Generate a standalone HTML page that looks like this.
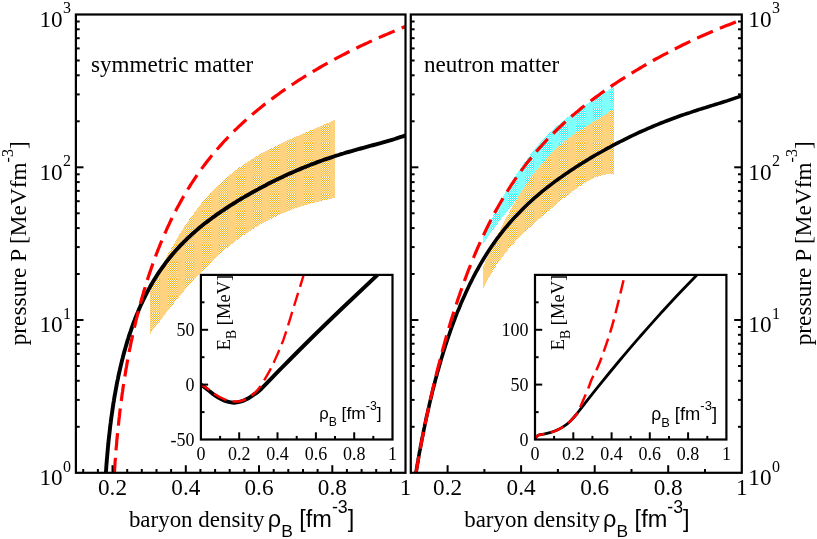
<!DOCTYPE html>
<html><head><meta charset="utf-8"><title>EOS pressure</title>
<style>
html,body{margin:0;padding:0;background:#fff;}
body{width:817px;height:539px;overflow:hidden;}
svg{display:block;will-change:transform;}
text{font-family:"Liberation Serif",serif;fill:#000;}
.mt{font-size:23.2px;}
.ml{font-size:23.1px;}
.ms{font-family:"Liberation Sans",sans-serif;}
.it{font-size:18px;}
.is{font-family:"Liberation Sans",sans-serif;font-size:17.4px;}
</style></head><body>
<svg width="817" height="539" viewBox="0 0 817 539">
<defs>
<clipPath id="c1"><rect x="75.9" y="14.5" width="329.6" height="458.3"/></clipPath>
<clipPath id="c2"><rect x="410.8" y="14.5" width="331.0" height="458.3"/></clipPath>
<clipPath id="c3"><rect x="200.9" y="274.9" width="191.6" height="164.6"/></clipPath>
<clipPath id="c4"><rect x="535.0" y="274.9" width="191.4" height="164.6"/></clipPath>
<pattern id="po1" x="253" y="7" width="17" height="17" patternUnits="userSpaceOnUse">
<rect width="17" height="17" fill="#ffd280"/>
<rect x="0" y="0" width="1" height="1" fill="#ffab18"/>
<rect x="1" y="0" width="1" height="1" fill="#fff9e8"/>
<rect x="2" y="0" width="1" height="1" fill="#ffab18"/>
<rect x="3" y="0" width="1" height="1" fill="#fff9e8"/>
<rect x="4" y="0" width="1" height="1" fill="#ffab18"/>
<rect x="5" y="0" width="1" height="1" fill="#fff9e8"/>
<rect x="6" y="0" width="1" height="1" fill="#ffab18"/>
<rect x="7" y="0" width="1" height="1" fill="#fff9e8"/>
<rect x="8" y="0" width="1" height="1" fill="#ffab18"/>
<rect x="0" y="1" width="1" height="1" fill="#fff9e8"/>
<rect x="1" y="1" width="1" height="1" fill="#ffab18"/>
<rect x="2" y="1" width="1" height="1" fill="#fff9e8"/>
<rect x="3" y="1" width="1" height="1" fill="#ffab18"/>
<rect x="4" y="1" width="1" height="1" fill="#fff9e8"/>
<rect x="5" y="1" width="1" height="1" fill="#ffab18"/>
<rect x="6" y="1" width="1" height="1" fill="#fff9e8"/>
<rect x="7" y="1" width="1" height="1" fill="#ffab18"/>
<rect x="8" y="1" width="1" height="1" fill="#fff9e8"/>
<rect x="0" y="2" width="1" height="1" fill="#ffab18"/>
<rect x="1" y="2" width="1" height="1" fill="#fff9e8"/>
<rect x="2" y="2" width="1" height="1" fill="#ffab18"/>
<rect x="3" y="2" width="1" height="1" fill="#fff9e8"/>
<rect x="4" y="2" width="1" height="1" fill="#ffab18"/>
<rect x="5" y="2" width="1" height="1" fill="#fff9e8"/>
<rect x="6" y="2" width="1" height="1" fill="#ffab18"/>
<rect x="7" y="2" width="1" height="1" fill="#fff9e8"/>
<rect x="8" y="2" width="1" height="1" fill="#ffab18"/>
<rect x="0" y="3" width="1" height="1" fill="#fff9e8"/>
<rect x="1" y="3" width="1" height="1" fill="#ffab18"/>
<rect x="2" y="3" width="1" height="1" fill="#fff9e8"/>
<rect x="3" y="3" width="1" height="1" fill="#ffab18"/>
<rect x="4" y="3" width="1" height="1" fill="#fff9e8"/>
<rect x="5" y="3" width="1" height="1" fill="#ffab18"/>
<rect x="6" y="3" width="1" height="1" fill="#fff9e8"/>
<rect x="7" y="3" width="1" height="1" fill="#ffab18"/>
<rect x="8" y="3" width="1" height="1" fill="#fff9e8"/>
<rect x="0" y="4" width="1" height="1" fill="#ffab18"/>
<rect x="1" y="4" width="1" height="1" fill="#fff9e8"/>
<rect x="2" y="4" width="1" height="1" fill="#ffab18"/>
<rect x="3" y="4" width="1" height="1" fill="#fff9e8"/>
<rect x="4" y="4" width="1" height="1" fill="#ffab18"/>
<rect x="5" y="4" width="1" height="1" fill="#fff9e8"/>
<rect x="6" y="4" width="1" height="1" fill="#ffab18"/>
<rect x="7" y="4" width="1" height="1" fill="#fff9e8"/>
<rect x="8" y="4" width="1" height="1" fill="#ffab18"/>
<rect x="0" y="5" width="1" height="1" fill="#fff9e8"/>
<rect x="1" y="5" width="1" height="1" fill="#ffab18"/>
<rect x="2" y="5" width="1" height="1" fill="#fff9e8"/>
<rect x="3" y="5" width="1" height="1" fill="#ffab18"/>
<rect x="4" y="5" width="1" height="1" fill="#fff9e8"/>
<rect x="5" y="5" width="1" height="1" fill="#ffab18"/>
<rect x="6" y="5" width="1" height="1" fill="#fff9e8"/>
<rect x="7" y="5" width="1" height="1" fill="#ffab18"/>
<rect x="8" y="5" width="1" height="1" fill="#fff9e8"/>
<rect x="0" y="6" width="1" height="1" fill="#ffab18"/>
<rect x="1" y="6" width="1" height="1" fill="#fff9e8"/>
<rect x="2" y="6" width="1" height="1" fill="#ffab18"/>
<rect x="3" y="6" width="1" height="1" fill="#fff9e8"/>
<rect x="4" y="6" width="1" height="1" fill="#ffab18"/>
<rect x="5" y="6" width="1" height="1" fill="#fff9e8"/>
<rect x="6" y="6" width="1" height="1" fill="#ffab18"/>
<rect x="7" y="6" width="1" height="1" fill="#fff9e8"/>
<rect x="8" y="6" width="1" height="1" fill="#ffab18"/>
<rect x="0" y="7" width="1" height="1" fill="#fff9e8"/>
<rect x="1" y="7" width="1" height="1" fill="#ffab18"/>
<rect x="2" y="7" width="1" height="1" fill="#fff9e8"/>
<rect x="3" y="7" width="1" height="1" fill="#ffab18"/>
<rect x="4" y="7" width="1" height="1" fill="#fff9e8"/>
<rect x="5" y="7" width="1" height="1" fill="#ffab18"/>
<rect x="6" y="7" width="1" height="1" fill="#fff9e8"/>
<rect x="7" y="7" width="1" height="1" fill="#ffab18"/>
<rect x="8" y="7" width="1" height="1" fill="#fff9e8"/>
<rect x="0" y="8" width="1" height="1" fill="#ffab18"/>
<rect x="1" y="8" width="1" height="1" fill="#fff9e8"/>
<rect x="2" y="8" width="1" height="1" fill="#ffab18"/>
<rect x="3" y="8" width="1" height="1" fill="#fff9e8"/>
<rect x="4" y="8" width="1" height="1" fill="#ffab18"/>
<rect x="5" y="8" width="1" height="1" fill="#fff9e8"/>
<rect x="6" y="8" width="1" height="1" fill="#ffab18"/>
<rect x="7" y="8" width="1" height="1" fill="#fff9e8"/>
<rect x="8" y="8" width="1" height="1" fill="#ffab18"/>
<rect x="0" y="9" width="1" height="1" fill="#ffe7b4"/>
<rect x="1" y="9" width="1" height="1" fill="#ffbd4c"/>
<rect x="2" y="9" width="1" height="1" fill="#ffe7b4"/>
<rect x="3" y="9" width="1" height="1" fill="#ffbd4c"/>
<rect x="4" y="9" width="1" height="1" fill="#ffe7b4"/>
<rect x="5" y="9" width="1" height="1" fill="#ffbd4c"/>
<rect x="6" y="9" width="1" height="1" fill="#ffe7b4"/>
<rect x="7" y="9" width="1" height="1" fill="#ffbd4c"/>
<rect x="8" y="9" width="1" height="1" fill="#ffe7b4"/>
<rect x="0" y="10" width="1" height="1" fill="#ffbd4c"/>
<rect x="1" y="10" width="1" height="1" fill="#ffe7b4"/>
<rect x="2" y="10" width="1" height="1" fill="#ffbd4c"/>
<rect x="3" y="10" width="1" height="1" fill="#ffe7b4"/>
<rect x="4" y="10" width="1" height="1" fill="#ffbd4c"/>
<rect x="5" y="10" width="1" height="1" fill="#ffe7b4"/>
<rect x="6" y="10" width="1" height="1" fill="#ffbd4c"/>
<rect x="7" y="10" width="1" height="1" fill="#ffe7b4"/>
<rect x="8" y="10" width="1" height="1" fill="#ffbd4c"/>
<rect x="0" y="11" width="1" height="1" fill="#ffe7b4"/>
<rect x="1" y="11" width="1" height="1" fill="#ffbd4c"/>
<rect x="2" y="11" width="1" height="1" fill="#ffe7b4"/>
<rect x="3" y="11" width="1" height="1" fill="#ffbd4c"/>
<rect x="4" y="11" width="1" height="1" fill="#ffe7b4"/>
<rect x="5" y="11" width="1" height="1" fill="#ffbd4c"/>
<rect x="6" y="11" width="1" height="1" fill="#ffe7b4"/>
<rect x="7" y="11" width="1" height="1" fill="#ffbd4c"/>
<rect x="8" y="11" width="1" height="1" fill="#ffe7b4"/>
<rect x="0" y="12" width="1" height="1" fill="#ffbd4c"/>
<rect x="1" y="12" width="1" height="1" fill="#ffe7b4"/>
<rect x="2" y="12" width="1" height="1" fill="#ffbd4c"/>
<rect x="3" y="12" width="1" height="1" fill="#ffe7b4"/>
<rect x="4" y="12" width="1" height="1" fill="#ffbd4c"/>
<rect x="5" y="12" width="1" height="1" fill="#ffe7b4"/>
<rect x="6" y="12" width="1" height="1" fill="#ffbd4c"/>
<rect x="7" y="12" width="1" height="1" fill="#ffe7b4"/>
<rect x="8" y="12" width="1" height="1" fill="#ffbd4c"/>
<rect x="0" y="13" width="1" height="1" fill="#ffe7b4"/>
<rect x="1" y="13" width="1" height="1" fill="#ffbd4c"/>
<rect x="2" y="13" width="1" height="1" fill="#ffe7b4"/>
<rect x="3" y="13" width="1" height="1" fill="#ffbd4c"/>
<rect x="4" y="13" width="1" height="1" fill="#ffe7b4"/>
<rect x="5" y="13" width="1" height="1" fill="#ffbd4c"/>
<rect x="6" y="13" width="1" height="1" fill="#ffe7b4"/>
<rect x="7" y="13" width="1" height="1" fill="#ffbd4c"/>
<rect x="8" y="13" width="1" height="1" fill="#ffe7b4"/>
<rect x="0" y="14" width="1" height="1" fill="#ffbd4c"/>
<rect x="1" y="14" width="1" height="1" fill="#ffe7b4"/>
<rect x="2" y="14" width="1" height="1" fill="#ffbd4c"/>
<rect x="3" y="14" width="1" height="1" fill="#ffe7b4"/>
<rect x="4" y="14" width="1" height="1" fill="#ffbd4c"/>
<rect x="5" y="14" width="1" height="1" fill="#ffe7b4"/>
<rect x="6" y="14" width="1" height="1" fill="#ffbd4c"/>
<rect x="7" y="14" width="1" height="1" fill="#ffe7b4"/>
<rect x="8" y="14" width="1" height="1" fill="#ffbd4c"/>
<rect x="0" y="15" width="1" height="1" fill="#ffe7b4"/>
<rect x="1" y="15" width="1" height="1" fill="#ffbd4c"/>
<rect x="2" y="15" width="1" height="1" fill="#ffe7b4"/>
<rect x="3" y="15" width="1" height="1" fill="#ffbd4c"/>
<rect x="4" y="15" width="1" height="1" fill="#ffe7b4"/>
<rect x="5" y="15" width="1" height="1" fill="#ffbd4c"/>
<rect x="6" y="15" width="1" height="1" fill="#ffe7b4"/>
<rect x="7" y="15" width="1" height="1" fill="#ffbd4c"/>
<rect x="8" y="15" width="1" height="1" fill="#ffe7b4"/>
<rect x="0" y="16" width="1" height="1" fill="#ffbd4c"/>
<rect x="1" y="16" width="1" height="1" fill="#ffe7b4"/>
<rect x="2" y="16" width="1" height="1" fill="#ffbd4c"/>
<rect x="3" y="16" width="1" height="1" fill="#ffe7b4"/>
<rect x="4" y="16" width="1" height="1" fill="#ffbd4c"/>
<rect x="5" y="16" width="1" height="1" fill="#ffe7b4"/>
<rect x="6" y="16" width="1" height="1" fill="#ffbd4c"/>
<rect x="7" y="16" width="1" height="1" fill="#ffe7b4"/>
<rect x="8" y="16" width="1" height="1" fill="#ffbd4c"/>
</pattern>
<pattern id="po2" x="576" y="7" width="17" height="17" patternUnits="userSpaceOnUse">
<rect width="17" height="17" fill="#ffd280"/>
<rect x="0" y="0" width="1" height="1" fill="#ffab18"/>
<rect x="1" y="0" width="1" height="1" fill="#fff9e8"/>
<rect x="2" y="0" width="1" height="1" fill="#ffab18"/>
<rect x="3" y="0" width="1" height="1" fill="#fff9e8"/>
<rect x="4" y="0" width="1" height="1" fill="#ffab18"/>
<rect x="5" y="0" width="1" height="1" fill="#fff9e8"/>
<rect x="6" y="0" width="1" height="1" fill="#ffab18"/>
<rect x="7" y="0" width="1" height="1" fill="#fff9e8"/>
<rect x="8" y="0" width="1" height="1" fill="#ffab18"/>
<rect x="0" y="1" width="1" height="1" fill="#fff9e8"/>
<rect x="1" y="1" width="1" height="1" fill="#ffab18"/>
<rect x="2" y="1" width="1" height="1" fill="#fff9e8"/>
<rect x="3" y="1" width="1" height="1" fill="#ffab18"/>
<rect x="4" y="1" width="1" height="1" fill="#fff9e8"/>
<rect x="5" y="1" width="1" height="1" fill="#ffab18"/>
<rect x="6" y="1" width="1" height="1" fill="#fff9e8"/>
<rect x="7" y="1" width="1" height="1" fill="#ffab18"/>
<rect x="8" y="1" width="1" height="1" fill="#fff9e8"/>
<rect x="0" y="2" width="1" height="1" fill="#ffab18"/>
<rect x="1" y="2" width="1" height="1" fill="#fff9e8"/>
<rect x="2" y="2" width="1" height="1" fill="#ffab18"/>
<rect x="3" y="2" width="1" height="1" fill="#fff9e8"/>
<rect x="4" y="2" width="1" height="1" fill="#ffab18"/>
<rect x="5" y="2" width="1" height="1" fill="#fff9e8"/>
<rect x="6" y="2" width="1" height="1" fill="#ffab18"/>
<rect x="7" y="2" width="1" height="1" fill="#fff9e8"/>
<rect x="8" y="2" width="1" height="1" fill="#ffab18"/>
<rect x="0" y="3" width="1" height="1" fill="#fff9e8"/>
<rect x="1" y="3" width="1" height="1" fill="#ffab18"/>
<rect x="2" y="3" width="1" height="1" fill="#fff9e8"/>
<rect x="3" y="3" width="1" height="1" fill="#ffab18"/>
<rect x="4" y="3" width="1" height="1" fill="#fff9e8"/>
<rect x="5" y="3" width="1" height="1" fill="#ffab18"/>
<rect x="6" y="3" width="1" height="1" fill="#fff9e8"/>
<rect x="7" y="3" width="1" height="1" fill="#ffab18"/>
<rect x="8" y="3" width="1" height="1" fill="#fff9e8"/>
<rect x="0" y="4" width="1" height="1" fill="#ffab18"/>
<rect x="1" y="4" width="1" height="1" fill="#fff9e8"/>
<rect x="2" y="4" width="1" height="1" fill="#ffab18"/>
<rect x="3" y="4" width="1" height="1" fill="#fff9e8"/>
<rect x="4" y="4" width="1" height="1" fill="#ffab18"/>
<rect x="5" y="4" width="1" height="1" fill="#fff9e8"/>
<rect x="6" y="4" width="1" height="1" fill="#ffab18"/>
<rect x="7" y="4" width="1" height="1" fill="#fff9e8"/>
<rect x="8" y="4" width="1" height="1" fill="#ffab18"/>
<rect x="0" y="5" width="1" height="1" fill="#fff9e8"/>
<rect x="1" y="5" width="1" height="1" fill="#ffab18"/>
<rect x="2" y="5" width="1" height="1" fill="#fff9e8"/>
<rect x="3" y="5" width="1" height="1" fill="#ffab18"/>
<rect x="4" y="5" width="1" height="1" fill="#fff9e8"/>
<rect x="5" y="5" width="1" height="1" fill="#ffab18"/>
<rect x="6" y="5" width="1" height="1" fill="#fff9e8"/>
<rect x="7" y="5" width="1" height="1" fill="#ffab18"/>
<rect x="8" y="5" width="1" height="1" fill="#fff9e8"/>
<rect x="0" y="6" width="1" height="1" fill="#ffab18"/>
<rect x="1" y="6" width="1" height="1" fill="#fff9e8"/>
<rect x="2" y="6" width="1" height="1" fill="#ffab18"/>
<rect x="3" y="6" width="1" height="1" fill="#fff9e8"/>
<rect x="4" y="6" width="1" height="1" fill="#ffab18"/>
<rect x="5" y="6" width="1" height="1" fill="#fff9e8"/>
<rect x="6" y="6" width="1" height="1" fill="#ffab18"/>
<rect x="7" y="6" width="1" height="1" fill="#fff9e8"/>
<rect x="8" y="6" width="1" height="1" fill="#ffab18"/>
<rect x="0" y="7" width="1" height="1" fill="#fff9e8"/>
<rect x="1" y="7" width="1" height="1" fill="#ffab18"/>
<rect x="2" y="7" width="1" height="1" fill="#fff9e8"/>
<rect x="3" y="7" width="1" height="1" fill="#ffab18"/>
<rect x="4" y="7" width="1" height="1" fill="#fff9e8"/>
<rect x="5" y="7" width="1" height="1" fill="#ffab18"/>
<rect x="6" y="7" width="1" height="1" fill="#fff9e8"/>
<rect x="7" y="7" width="1" height="1" fill="#ffab18"/>
<rect x="8" y="7" width="1" height="1" fill="#fff9e8"/>
<rect x="0" y="8" width="1" height="1" fill="#ffab18"/>
<rect x="1" y="8" width="1" height="1" fill="#fff9e8"/>
<rect x="2" y="8" width="1" height="1" fill="#ffab18"/>
<rect x="3" y="8" width="1" height="1" fill="#fff9e8"/>
<rect x="4" y="8" width="1" height="1" fill="#ffab18"/>
<rect x="5" y="8" width="1" height="1" fill="#fff9e8"/>
<rect x="6" y="8" width="1" height="1" fill="#ffab18"/>
<rect x="7" y="8" width="1" height="1" fill="#fff9e8"/>
<rect x="8" y="8" width="1" height="1" fill="#ffab18"/>
<rect x="0" y="9" width="1" height="1" fill="#ffe7b4"/>
<rect x="1" y="9" width="1" height="1" fill="#ffbd4c"/>
<rect x="2" y="9" width="1" height="1" fill="#ffe7b4"/>
<rect x="3" y="9" width="1" height="1" fill="#ffbd4c"/>
<rect x="4" y="9" width="1" height="1" fill="#ffe7b4"/>
<rect x="5" y="9" width="1" height="1" fill="#ffbd4c"/>
<rect x="6" y="9" width="1" height="1" fill="#ffe7b4"/>
<rect x="7" y="9" width="1" height="1" fill="#ffbd4c"/>
<rect x="8" y="9" width="1" height="1" fill="#ffe7b4"/>
<rect x="0" y="10" width="1" height="1" fill="#ffbd4c"/>
<rect x="1" y="10" width="1" height="1" fill="#ffe7b4"/>
<rect x="2" y="10" width="1" height="1" fill="#ffbd4c"/>
<rect x="3" y="10" width="1" height="1" fill="#ffe7b4"/>
<rect x="4" y="10" width="1" height="1" fill="#ffbd4c"/>
<rect x="5" y="10" width="1" height="1" fill="#ffe7b4"/>
<rect x="6" y="10" width="1" height="1" fill="#ffbd4c"/>
<rect x="7" y="10" width="1" height="1" fill="#ffe7b4"/>
<rect x="8" y="10" width="1" height="1" fill="#ffbd4c"/>
<rect x="0" y="11" width="1" height="1" fill="#ffe7b4"/>
<rect x="1" y="11" width="1" height="1" fill="#ffbd4c"/>
<rect x="2" y="11" width="1" height="1" fill="#ffe7b4"/>
<rect x="3" y="11" width="1" height="1" fill="#ffbd4c"/>
<rect x="4" y="11" width="1" height="1" fill="#ffe7b4"/>
<rect x="5" y="11" width="1" height="1" fill="#ffbd4c"/>
<rect x="6" y="11" width="1" height="1" fill="#ffe7b4"/>
<rect x="7" y="11" width="1" height="1" fill="#ffbd4c"/>
<rect x="8" y="11" width="1" height="1" fill="#ffe7b4"/>
<rect x="0" y="12" width="1" height="1" fill="#ffbd4c"/>
<rect x="1" y="12" width="1" height="1" fill="#ffe7b4"/>
<rect x="2" y="12" width="1" height="1" fill="#ffbd4c"/>
<rect x="3" y="12" width="1" height="1" fill="#ffe7b4"/>
<rect x="4" y="12" width="1" height="1" fill="#ffbd4c"/>
<rect x="5" y="12" width="1" height="1" fill="#ffe7b4"/>
<rect x="6" y="12" width="1" height="1" fill="#ffbd4c"/>
<rect x="7" y="12" width="1" height="1" fill="#ffe7b4"/>
<rect x="8" y="12" width="1" height="1" fill="#ffbd4c"/>
<rect x="0" y="13" width="1" height="1" fill="#ffe7b4"/>
<rect x="1" y="13" width="1" height="1" fill="#ffbd4c"/>
<rect x="2" y="13" width="1" height="1" fill="#ffe7b4"/>
<rect x="3" y="13" width="1" height="1" fill="#ffbd4c"/>
<rect x="4" y="13" width="1" height="1" fill="#ffe7b4"/>
<rect x="5" y="13" width="1" height="1" fill="#ffbd4c"/>
<rect x="6" y="13" width="1" height="1" fill="#ffe7b4"/>
<rect x="7" y="13" width="1" height="1" fill="#ffbd4c"/>
<rect x="8" y="13" width="1" height="1" fill="#ffe7b4"/>
<rect x="0" y="14" width="1" height="1" fill="#ffbd4c"/>
<rect x="1" y="14" width="1" height="1" fill="#ffe7b4"/>
<rect x="2" y="14" width="1" height="1" fill="#ffbd4c"/>
<rect x="3" y="14" width="1" height="1" fill="#ffe7b4"/>
<rect x="4" y="14" width="1" height="1" fill="#ffbd4c"/>
<rect x="5" y="14" width="1" height="1" fill="#ffe7b4"/>
<rect x="6" y="14" width="1" height="1" fill="#ffbd4c"/>
<rect x="7" y="14" width="1" height="1" fill="#ffe7b4"/>
<rect x="8" y="14" width="1" height="1" fill="#ffbd4c"/>
<rect x="0" y="15" width="1" height="1" fill="#ffe7b4"/>
<rect x="1" y="15" width="1" height="1" fill="#ffbd4c"/>
<rect x="2" y="15" width="1" height="1" fill="#ffe7b4"/>
<rect x="3" y="15" width="1" height="1" fill="#ffbd4c"/>
<rect x="4" y="15" width="1" height="1" fill="#ffe7b4"/>
<rect x="5" y="15" width="1" height="1" fill="#ffbd4c"/>
<rect x="6" y="15" width="1" height="1" fill="#ffe7b4"/>
<rect x="7" y="15" width="1" height="1" fill="#ffbd4c"/>
<rect x="8" y="15" width="1" height="1" fill="#ffe7b4"/>
<rect x="0" y="16" width="1" height="1" fill="#ffbd4c"/>
<rect x="1" y="16" width="1" height="1" fill="#ffe7b4"/>
<rect x="2" y="16" width="1" height="1" fill="#ffbd4c"/>
<rect x="3" y="16" width="1" height="1" fill="#ffe7b4"/>
<rect x="4" y="16" width="1" height="1" fill="#ffbd4c"/>
<rect x="5" y="16" width="1" height="1" fill="#ffe7b4"/>
<rect x="6" y="16" width="1" height="1" fill="#ffbd4c"/>
<rect x="7" y="16" width="1" height="1" fill="#ffe7b4"/>
<rect x="8" y="16" width="1" height="1" fill="#ffbd4c"/>
</pattern>
<pattern id="pc2" x="576" y="7" width="17" height="17" patternUnits="userSpaceOnUse">
<rect width="17" height="17" fill="#80ffff"/>
<rect x="0" y="0" width="1" height="1" fill="#18ffff"/>
<rect x="1" y="0" width="1" height="1" fill="#e8ffff"/>
<rect x="2" y="0" width="1" height="1" fill="#18ffff"/>
<rect x="3" y="0" width="1" height="1" fill="#e8ffff"/>
<rect x="4" y="0" width="1" height="1" fill="#18ffff"/>
<rect x="5" y="0" width="1" height="1" fill="#e8ffff"/>
<rect x="6" y="0" width="1" height="1" fill="#18ffff"/>
<rect x="7" y="0" width="1" height="1" fill="#e8ffff"/>
<rect x="8" y="0" width="1" height="1" fill="#18ffff"/>
<rect x="0" y="1" width="1" height="1" fill="#e8ffff"/>
<rect x="1" y="1" width="1" height="1" fill="#18ffff"/>
<rect x="2" y="1" width="1" height="1" fill="#e8ffff"/>
<rect x="3" y="1" width="1" height="1" fill="#18ffff"/>
<rect x="4" y="1" width="1" height="1" fill="#e8ffff"/>
<rect x="5" y="1" width="1" height="1" fill="#18ffff"/>
<rect x="6" y="1" width="1" height="1" fill="#e8ffff"/>
<rect x="7" y="1" width="1" height="1" fill="#18ffff"/>
<rect x="8" y="1" width="1" height="1" fill="#e8ffff"/>
<rect x="0" y="2" width="1" height="1" fill="#18ffff"/>
<rect x="1" y="2" width="1" height="1" fill="#e8ffff"/>
<rect x="2" y="2" width="1" height="1" fill="#18ffff"/>
<rect x="3" y="2" width="1" height="1" fill="#e8ffff"/>
<rect x="4" y="2" width="1" height="1" fill="#18ffff"/>
<rect x="5" y="2" width="1" height="1" fill="#e8ffff"/>
<rect x="6" y="2" width="1" height="1" fill="#18ffff"/>
<rect x="7" y="2" width="1" height="1" fill="#e8ffff"/>
<rect x="8" y="2" width="1" height="1" fill="#18ffff"/>
<rect x="0" y="3" width="1" height="1" fill="#e8ffff"/>
<rect x="1" y="3" width="1" height="1" fill="#18ffff"/>
<rect x="2" y="3" width="1" height="1" fill="#e8ffff"/>
<rect x="3" y="3" width="1" height="1" fill="#18ffff"/>
<rect x="4" y="3" width="1" height="1" fill="#e8ffff"/>
<rect x="5" y="3" width="1" height="1" fill="#18ffff"/>
<rect x="6" y="3" width="1" height="1" fill="#e8ffff"/>
<rect x="7" y="3" width="1" height="1" fill="#18ffff"/>
<rect x="8" y="3" width="1" height="1" fill="#e8ffff"/>
<rect x="0" y="4" width="1" height="1" fill="#18ffff"/>
<rect x="1" y="4" width="1" height="1" fill="#e8ffff"/>
<rect x="2" y="4" width="1" height="1" fill="#18ffff"/>
<rect x="3" y="4" width="1" height="1" fill="#e8ffff"/>
<rect x="4" y="4" width="1" height="1" fill="#18ffff"/>
<rect x="5" y="4" width="1" height="1" fill="#e8ffff"/>
<rect x="6" y="4" width="1" height="1" fill="#18ffff"/>
<rect x="7" y="4" width="1" height="1" fill="#e8ffff"/>
<rect x="8" y="4" width="1" height="1" fill="#18ffff"/>
<rect x="0" y="5" width="1" height="1" fill="#e8ffff"/>
<rect x="1" y="5" width="1" height="1" fill="#18ffff"/>
<rect x="2" y="5" width="1" height="1" fill="#e8ffff"/>
<rect x="3" y="5" width="1" height="1" fill="#18ffff"/>
<rect x="4" y="5" width="1" height="1" fill="#e8ffff"/>
<rect x="5" y="5" width="1" height="1" fill="#18ffff"/>
<rect x="6" y="5" width="1" height="1" fill="#e8ffff"/>
<rect x="7" y="5" width="1" height="1" fill="#18ffff"/>
<rect x="8" y="5" width="1" height="1" fill="#e8ffff"/>
<rect x="0" y="6" width="1" height="1" fill="#18ffff"/>
<rect x="1" y="6" width="1" height="1" fill="#e8ffff"/>
<rect x="2" y="6" width="1" height="1" fill="#18ffff"/>
<rect x="3" y="6" width="1" height="1" fill="#e8ffff"/>
<rect x="4" y="6" width="1" height="1" fill="#18ffff"/>
<rect x="5" y="6" width="1" height="1" fill="#e8ffff"/>
<rect x="6" y="6" width="1" height="1" fill="#18ffff"/>
<rect x="7" y="6" width="1" height="1" fill="#e8ffff"/>
<rect x="8" y="6" width="1" height="1" fill="#18ffff"/>
<rect x="0" y="7" width="1" height="1" fill="#e8ffff"/>
<rect x="1" y="7" width="1" height="1" fill="#18ffff"/>
<rect x="2" y="7" width="1" height="1" fill="#e8ffff"/>
<rect x="3" y="7" width="1" height="1" fill="#18ffff"/>
<rect x="4" y="7" width="1" height="1" fill="#e8ffff"/>
<rect x="5" y="7" width="1" height="1" fill="#18ffff"/>
<rect x="6" y="7" width="1" height="1" fill="#e8ffff"/>
<rect x="7" y="7" width="1" height="1" fill="#18ffff"/>
<rect x="8" y="7" width="1" height="1" fill="#e8ffff"/>
<rect x="0" y="8" width="1" height="1" fill="#18ffff"/>
<rect x="1" y="8" width="1" height="1" fill="#e8ffff"/>
<rect x="2" y="8" width="1" height="1" fill="#18ffff"/>
<rect x="3" y="8" width="1" height="1" fill="#e8ffff"/>
<rect x="4" y="8" width="1" height="1" fill="#18ffff"/>
<rect x="5" y="8" width="1" height="1" fill="#e8ffff"/>
<rect x="6" y="8" width="1" height="1" fill="#18ffff"/>
<rect x="7" y="8" width="1" height="1" fill="#e8ffff"/>
<rect x="8" y="8" width="1" height="1" fill="#18ffff"/>
<rect x="0" y="9" width="1" height="1" fill="#b4ffff"/>
<rect x="1" y="9" width="1" height="1" fill="#4cffff"/>
<rect x="2" y="9" width="1" height="1" fill="#b4ffff"/>
<rect x="3" y="9" width="1" height="1" fill="#4cffff"/>
<rect x="4" y="9" width="1" height="1" fill="#b4ffff"/>
<rect x="5" y="9" width="1" height="1" fill="#4cffff"/>
<rect x="6" y="9" width="1" height="1" fill="#b4ffff"/>
<rect x="7" y="9" width="1" height="1" fill="#4cffff"/>
<rect x="8" y="9" width="1" height="1" fill="#b4ffff"/>
<rect x="0" y="10" width="1" height="1" fill="#4cffff"/>
<rect x="1" y="10" width="1" height="1" fill="#b4ffff"/>
<rect x="2" y="10" width="1" height="1" fill="#4cffff"/>
<rect x="3" y="10" width="1" height="1" fill="#b4ffff"/>
<rect x="4" y="10" width="1" height="1" fill="#4cffff"/>
<rect x="5" y="10" width="1" height="1" fill="#b4ffff"/>
<rect x="6" y="10" width="1" height="1" fill="#4cffff"/>
<rect x="7" y="10" width="1" height="1" fill="#b4ffff"/>
<rect x="8" y="10" width="1" height="1" fill="#4cffff"/>
<rect x="0" y="11" width="1" height="1" fill="#b4ffff"/>
<rect x="1" y="11" width="1" height="1" fill="#4cffff"/>
<rect x="2" y="11" width="1" height="1" fill="#b4ffff"/>
<rect x="3" y="11" width="1" height="1" fill="#4cffff"/>
<rect x="4" y="11" width="1" height="1" fill="#b4ffff"/>
<rect x="5" y="11" width="1" height="1" fill="#4cffff"/>
<rect x="6" y="11" width="1" height="1" fill="#b4ffff"/>
<rect x="7" y="11" width="1" height="1" fill="#4cffff"/>
<rect x="8" y="11" width="1" height="1" fill="#b4ffff"/>
<rect x="0" y="12" width="1" height="1" fill="#4cffff"/>
<rect x="1" y="12" width="1" height="1" fill="#b4ffff"/>
<rect x="2" y="12" width="1" height="1" fill="#4cffff"/>
<rect x="3" y="12" width="1" height="1" fill="#b4ffff"/>
<rect x="4" y="12" width="1" height="1" fill="#4cffff"/>
<rect x="5" y="12" width="1" height="1" fill="#b4ffff"/>
<rect x="6" y="12" width="1" height="1" fill="#4cffff"/>
<rect x="7" y="12" width="1" height="1" fill="#b4ffff"/>
<rect x="8" y="12" width="1" height="1" fill="#4cffff"/>
<rect x="0" y="13" width="1" height="1" fill="#b4ffff"/>
<rect x="1" y="13" width="1" height="1" fill="#4cffff"/>
<rect x="2" y="13" width="1" height="1" fill="#b4ffff"/>
<rect x="3" y="13" width="1" height="1" fill="#4cffff"/>
<rect x="4" y="13" width="1" height="1" fill="#b4ffff"/>
<rect x="5" y="13" width="1" height="1" fill="#4cffff"/>
<rect x="6" y="13" width="1" height="1" fill="#b4ffff"/>
<rect x="7" y="13" width="1" height="1" fill="#4cffff"/>
<rect x="8" y="13" width="1" height="1" fill="#b4ffff"/>
<rect x="0" y="14" width="1" height="1" fill="#4cffff"/>
<rect x="1" y="14" width="1" height="1" fill="#b4ffff"/>
<rect x="2" y="14" width="1" height="1" fill="#4cffff"/>
<rect x="3" y="14" width="1" height="1" fill="#b4ffff"/>
<rect x="4" y="14" width="1" height="1" fill="#4cffff"/>
<rect x="5" y="14" width="1" height="1" fill="#b4ffff"/>
<rect x="6" y="14" width="1" height="1" fill="#4cffff"/>
<rect x="7" y="14" width="1" height="1" fill="#b4ffff"/>
<rect x="8" y="14" width="1" height="1" fill="#4cffff"/>
<rect x="0" y="15" width="1" height="1" fill="#b4ffff"/>
<rect x="1" y="15" width="1" height="1" fill="#4cffff"/>
<rect x="2" y="15" width="1" height="1" fill="#b4ffff"/>
<rect x="3" y="15" width="1" height="1" fill="#4cffff"/>
<rect x="4" y="15" width="1" height="1" fill="#b4ffff"/>
<rect x="5" y="15" width="1" height="1" fill="#4cffff"/>
<rect x="6" y="15" width="1" height="1" fill="#b4ffff"/>
<rect x="7" y="15" width="1" height="1" fill="#4cffff"/>
<rect x="8" y="15" width="1" height="1" fill="#b4ffff"/>
<rect x="0" y="16" width="1" height="1" fill="#4cffff"/>
<rect x="1" y="16" width="1" height="1" fill="#b4ffff"/>
<rect x="2" y="16" width="1" height="1" fill="#4cffff"/>
<rect x="3" y="16" width="1" height="1" fill="#b4ffff"/>
<rect x="4" y="16" width="1" height="1" fill="#4cffff"/>
<rect x="5" y="16" width="1" height="1" fill="#b4ffff"/>
<rect x="6" y="16" width="1" height="1" fill="#4cffff"/>
<rect x="7" y="16" width="1" height="1" fill="#b4ffff"/>
<rect x="8" y="16" width="1" height="1" fill="#4cffff"/>
</pattern>
</defs>
<rect width="817" height="539" fill="#fff"/>
<g clip-path="url(#c1)">
<path d="M150.4 290.9 L155.1 280.3 L159.9 270.3 L164.6 260.8 L169.3 251.9 L174.0 243.4 L178.8 235.5 L183.5 228.0 L188.2 221.0 L193.0 214.4 L197.7 208.2 L202.4 202.4 L207.1 196.9 L211.9 191.8 L216.6 186.9 L221.3 182.4 L226.1 178.2 L230.8 174.2 L235.5 170.4 L240.2 166.9 L245.0 163.6 L249.7 160.5 L254.4 157.5 L259.1 154.7 L263.9 152.1 L268.6 149.5 L273.3 147.1 L278.1 144.8 L282.8 142.5 L287.5 140.4 L292.2 138.3 L297.0 136.2 L301.7 134.1 L306.4 132.1 L311.2 130.1 L315.9 128.1 L320.6 126.1 L325.3 124.0 L330.1 121.9 L334.8 119.8 L334.8 197.8 L334.8 197.8 L330.1 198.9 L325.3 199.9 L320.6 201.1 L315.9 202.3 L311.2 203.5 L306.4 204.9 L301.7 206.3 L297.0 207.9 L292.2 209.6 L287.5 211.4 L282.8 213.3 L278.1 215.4 L273.3 217.6 L268.6 220.0 L263.9 222.5 L259.1 225.2 L254.4 228.1 L249.7 231.1 L245.0 234.3 L240.2 237.6 L235.5 241.2 L230.8 244.9 L226.1 248.8 L221.3 252.8 L216.6 257.1 L211.9 261.5 L207.1 266.1 L202.4 270.9 L197.7 275.8 L193.0 280.9 L188.2 286.2 L183.5 291.6 L178.8 297.2 L174.0 303.0 L169.3 308.9 L164.6 314.9 L159.9 321.1 L155.1 327.3 L150.4 333.7 Z" fill="url(#po1)" shape-rendering="crispEdges"/>
<path d="M105.8 474.3 L105.8 474.2 L105.8 474.0 L105.8 473.5 L105.9 472.9 L105.9 472.1 L106.0 471.1 L106.1 470.0 L106.2 468.7 L106.3 467.2 L106.4 465.6 L106.5 463.9 L106.7 462.1 L106.8 460.2 L107.0 458.1 L107.2 456.0 L107.4 453.7 L107.6 451.4 L107.8 449.0 L108.0 446.6 L108.3 444.1 L108.5 441.5 L108.8 439.0 L109.1 436.3 L109.4 433.7 L109.7 431.0 L110.0 428.2 L110.3 425.5 L110.7 422.8 L111.0 420.0 L111.4 417.2 L111.8 414.5 L112.2 411.7 L112.6 408.9 L113.0 406.1 L113.4 403.3 L113.9 400.6 L114.3 397.8 L114.8 395.1 L115.3 392.3 L115.8 389.6 L116.3 386.9 L116.8 384.2 L117.3 381.5 L117.9 378.8 L118.4 376.1 L119.0 373.5 L119.6 370.9 L120.2 368.2 L120.8 365.6 L121.4 363.1 L122.0 360.5 L122.7 358.0 L123.3 355.4 L124.0 352.9 L124.7 350.4 L125.4 348.0 L126.1 345.5 L126.8 343.1 L127.5 340.7 L128.3 338.3 L129.0 335.9 L129.8 333.6 L130.6 331.3 L131.4 329.0 L132.2 326.7 L133.0 324.4 L133.8 322.2 L134.7 319.9 L135.5 317.7 L136.4 315.6 L137.3 313.4 L138.2 311.3 L139.1 309.1 L140.0 307.0 L140.9 305.0 L141.9 302.9 L142.8 300.9 L143.8 298.8 L144.8 296.8 L145.8 294.9 L146.8 292.9 L147.8 291.0 L148.8 289.1 L149.9 287.2 L150.9 285.3 L152.0 283.4 L153.1 281.6 L154.2 279.8 L155.3 278.0 L156.4 276.2 L157.5 274.5 L158.7 272.7 L159.8 271.0 L161.0 269.3 L162.2 267.6 L163.4 266.0 L164.6 264.3 L165.8 262.7 L167.0 261.1 L168.3 259.5 L169.5 257.9 L170.8 256.4 L172.1 254.8 L173.4 253.3 L174.7 251.8 L176.0 250.3 L177.3 248.8 L178.7 247.4 L180.0 245.9 L181.4 244.5 L182.8 243.1 L184.2 241.7 L185.6 240.3 L187.0 238.9 L188.4 237.5 L189.9 236.2 L191.3 234.9 L192.8 233.5 L194.3 232.2 L195.8 230.9 L197.3 229.6 L198.8 228.3 L200.3 227.1 L201.9 225.8 L203.4 224.6 L205.0 223.3 L206.6 222.1 L208.2 220.9 L209.8 219.7 L211.4 218.5 L213.0 217.3 L214.7 216.1 L216.3 214.9 L218.0 213.7 L219.7 212.6 L221.4 211.4 L223.1 210.3 L224.8 209.1 L226.5 208.0 L228.3 206.8 L230.0 205.7 L231.8 204.6 L233.6 203.5 L235.4 202.4 L237.2 201.2 L239.0 200.1 L240.8 199.0 L242.7 197.9 L244.5 196.9 L246.4 195.8 L248.3 194.7 L250.2 193.6 L252.1 192.5 L254.0 191.5 L255.9 190.4 L257.9 189.4 L259.8 188.3 L261.8 187.3 L263.8 186.2 L265.8 185.2 L267.8 184.1 L269.8 183.1 L271.8 182.1 L273.9 181.1 L275.9 180.1 L278.0 179.0 L280.1 178.0 L282.2 177.1 L284.3 176.1 L286.4 175.1 L288.5 174.1 L290.7 173.1 L292.8 172.2 L295.0 171.2 L297.2 170.3 L299.4 169.4 L301.6 168.4 L303.8 167.5 L306.0 166.6 L308.3 165.7 L310.5 164.8 L312.8 163.9 L315.1 163.1 L317.4 162.2 L319.7 161.4 L322.0 160.5 L324.3 159.7 L326.7 158.9 L329.0 158.1 L331.4 157.3 L333.8 156.5 L336.2 155.7 L338.6 155.0 L341.0 154.2 L343.4 153.5 L345.8 152.7 L348.3 152.0 L350.8 151.3 L353.3 150.6 L355.7 149.9 L358.3 149.2 L360.8 148.5 L363.3 147.8 L365.8 147.1 L368.4 146.4 L371.0 145.7 L373.6 145.0 L376.1 144.3 L378.8 143.6 L381.4 142.9 L384.0 142.1 L386.6 141.4 L389.3 140.6 L392.0 139.8 L394.7 139.0 L397.3 138.1 L400.1 137.2 L402.8 136.3 L405.5 135.3" fill="none" stroke="#000" stroke-width="3.9"/>
<path d="M114.3 474.3 L114.3 474.2 L114.3 473.9 L114.3 473.5 L114.4 472.8 L114.4 472.0 L114.5 471.0 L114.6 469.8 L114.7 468.4 L114.8 466.9 L114.9 465.3 L115.0 463.5 L115.1 461.6 L115.3 459.5 L115.5 457.4 L115.6 455.1 L115.8 452.7 L116.0 450.3 L116.2 447.7 L116.5 445.1 L116.7 442.4 L116.9 439.7 L117.2 436.9 L117.5 434.0 L117.8 431.2 L118.1 428.2 L118.4 425.3 L118.7 422.3 L119.0 419.2 L119.4 416.2 L119.7 413.1 L120.1 410.0 L120.5 406.9 L120.9 403.8 L121.3 400.7 L121.7 397.6 L122.1 394.4 L122.6 391.3 L123.0 388.1 L123.5 385.0 L124.0 381.9 L124.5 378.7 L125.0 375.6 L125.5 372.4 L126.0 369.3 L126.6 366.2 L127.1 363.0 L127.7 359.9 L128.3 356.8 L128.8 353.7 L129.4 350.6 L130.1 347.5 L130.7 344.4 L131.3 341.4 L132.0 338.3 L132.6 335.2 L133.3 332.2 L134.0 329.2 L134.7 326.1 L135.4 323.1 L136.1 320.1 L136.9 317.1 L137.6 314.2 L138.4 311.2 L139.1 308.2 L139.9 305.3 L140.7 302.4 L141.5 299.5 L142.3 296.6 L143.2 293.7 L144.0 290.8 L144.9 288.0 L145.7 285.1 L146.6 282.3 L147.5 279.5 L148.4 276.7 L149.3 273.9 L150.3 271.1 L151.2 268.4 L152.2 265.6 L153.1 262.9 L154.1 260.2 L155.1 257.5 L156.1 254.9 L157.1 252.2 L158.1 249.6 L159.2 247.0 L160.2 244.4 L161.3 241.8 L162.4 239.2 L163.4 236.7 L164.5 234.1 L165.7 231.6 L166.8 229.1 L167.9 226.6 L169.1 224.2 L170.2 221.7 L171.4 219.3 L172.6 216.9 L173.8 214.5 L175.0 212.1 L176.2 209.8 L177.4 207.5 L178.7 205.2 L179.9 202.9 L181.2 200.6 L182.5 198.3 L183.8 196.1 L185.1 193.9 L186.4 191.7 L187.7 189.5 L189.1 187.3 L190.4 185.2 L191.8 183.0 L193.2 180.9 L194.6 178.8 L196.0 176.7 L197.4 174.7 L198.8 172.6 L200.3 170.6 L201.7 168.6 L203.2 166.6 L204.6 164.7 L206.1 162.7 L207.6 160.8 L209.1 158.9 L210.7 156.9 L212.2 155.1 L213.8 153.2 L215.3 151.3 L216.9 149.5 L218.5 147.7 L220.1 145.9 L221.7 144.1 L223.3 142.3 L224.9 140.5 L226.6 138.8 L228.2 137.0 L229.9 135.3 L231.6 133.6 L233.3 131.9 L235.0 130.2 L236.7 128.6 L238.4 126.9 L240.2 125.3 L241.9 123.6 L243.7 122.0 L245.5 120.4 L247.3 118.8 L249.1 117.2 L250.9 115.7 L252.7 114.1 L254.6 112.5 L256.4 111.0 L258.3 109.5 L260.2 108.0 L262.0 106.4 L263.9 104.9 L265.9 103.5 L267.8 102.0 L269.7 100.5 L271.7 99.0 L273.6 97.6 L275.6 96.1 L277.6 94.7 L279.6 93.3 L281.6 91.8 L283.6 90.4 L285.6 89.0 L287.7 87.6 L289.8 86.2 L291.8 84.8 L293.9 83.5 L296.0 82.1 L298.1 80.7 L300.2 79.4 L302.4 78.0 L304.5 76.7 L306.7 75.3 L308.8 74.0 L311.0 72.7 L313.2 71.4 L315.4 70.1 L317.6 68.8 L319.8 67.5 L322.1 66.2 L324.3 64.9 L326.6 63.6 L328.9 62.4 L331.2 61.1 L333.5 59.9 L335.8 58.6 L338.1 57.4 L340.5 56.1 L342.8 54.9 L345.2 53.7 L347.5 52.5 L349.9 51.3 L352.3 50.1 L354.7 48.9 L357.2 47.7 L359.6 46.5 L362.0 45.4 L364.5 44.2 L367.0 43.1 L369.5 41.9 L372.0 40.8 L374.5 39.6 L377.0 38.5 L379.5 37.4 L382.1 36.3 L384.6 35.2 L387.2 34.1 L389.8 33.0 L392.4 31.9 L395.0 30.8 L397.6 29.7 L400.2 28.6 L402.8 27.5 L405.5 26.5" fill="none" stroke="#f00" stroke-width="3.2" stroke-dasharray="16.5 7.6 17.2 7.6 17.2 7.6 17.2 7.6 17.2 7.6 17.2 7.6 17.2 7.6 17.2 7.6 17.2 7.6 17.2 7.6 17.2 7.6 17.2 7.6 17.2 7.6 17.2 7.6 17.2 7.6 17.2 7.6 17.2 7.6 17.2 7.6 17.2 7.6 17.2 7.6 17.2 7.6 17.2 7.6 17.2 7.6 17.2 7.6 17.2 7.6 17.2 7.6 17.2 7.6 17.2 7.6 17.2 7.6 17.2 7.6 17.2 7.6 17.2 7.6 17.2 7.6 17.2 7.6 17.2 7.6 17.2 7.6 17.2 7.6 17.2 7.6 17.2 7.6 17.2 7.6 17.2 7.6 17.2 7.6 17.2 7.6"/>
</g>
<g clip-path="url(#c2)">
<path d="M482.9 237.0 L486.3 229.8 L489.6 222.8 L493.0 216.0 L496.3 209.4 L499.7 203.0 L503.0 196.8 L506.4 190.9 L509.8 185.1 L513.1 179.6 L516.5 174.3 L519.8 169.2 L523.2 164.3 L526.5 159.6 L529.9 155.1 L533.2 150.9 L536.6 146.8 L540.0 142.9 L543.3 139.2 L546.7 135.7 L550.0 132.4 L553.4 129.2 L556.7 126.2 L560.1 123.3 L563.5 120.5 L566.8 117.9 L570.2 115.4 L573.5 113.0 L576.9 110.6 L580.2 108.4 L583.6 106.2 L586.9 104.0 L590.3 101.9 L593.7 99.8 L597.0 97.6 L600.4 95.5 L603.7 93.3 L607.1 91.0 L610.4 88.6 L613.8 86.2 L613.8 116.2 L613.8 116.2 L610.4 117.8 L607.1 119.6 L603.7 121.5 L600.4 123.5 L597.0 125.6 L593.7 127.9 L590.3 130.3 L586.9 132.7 L583.6 135.3 L580.2 137.9 L576.9 140.7 L573.5 143.5 L570.2 146.3 L566.8 149.3 L563.5 152.3 L560.1 155.3 L556.7 158.4 L553.4 161.6 L550.0 164.8 L546.7 168.1 L543.3 171.4 L540.0 174.8 L536.6 178.3 L533.2 181.8 L529.9 185.3 L526.5 189.0 L523.2 192.6 L519.8 196.4 L516.5 200.2 L513.1 204.1 L509.8 208.1 L506.4 212.2 L503.0 216.4 L499.7 220.7 L496.3 225.1 L493.0 229.6 L489.6 234.2 L486.3 239.0 L482.9 244.0 Z" fill="url(#pc2)" shape-rendering="crispEdges"/>
<path d="M482.9 267.3 L486.3 259.6 L489.6 252.1 L493.0 244.7 L496.3 237.6 L499.7 230.7 L503.0 224.0 L506.4 217.6 L509.8 211.4 L513.1 205.4 L516.5 199.6 L519.8 194.1 L523.2 188.8 L526.5 183.8 L529.9 179.0 L533.2 174.4 L536.6 170.0 L540.0 165.9 L543.3 161.9 L546.7 158.2 L550.0 154.6 L553.4 151.3 L556.7 148.1 L560.1 145.1 L563.5 142.3 L566.8 139.6 L570.2 137.0 L573.5 134.6 L576.9 132.2 L580.2 130.0 L583.6 127.8 L586.9 125.7 L590.3 123.7 L593.7 121.6 L597.0 119.6 L600.4 117.5 L603.7 115.4 L607.1 113.3 L610.4 111.0 L613.8 108.7 L613.8 174.6 L613.8 174.6 L610.4 174.3 L607.1 174.4 L603.7 174.9 L600.4 175.7 L597.0 176.8 L593.7 178.2 L590.3 179.9 L587.0 181.7 L583.6 183.8 L580.3 185.9 L576.9 188.3 L573.6 190.7 L570.2 193.2 L566.9 195.8 L563.5 198.4 L560.2 201.1 L556.8 203.9 L553.5 206.7 L550.1 209.5 L546.8 212.3 L543.4 215.2 L540.1 218.1 L536.7 221.0 L533.4 224.0 L530.0 227.1 L526.7 230.2 L523.3 233.5 L520.0 236.8 L516.6 240.3 L513.3 243.9 L509.9 247.7 L506.6 251.7 L503.2 256.0 L499.9 260.5 L496.5 265.3 L493.2 270.5 L489.8 276.1 L486.5 282.1 L483.1 288.5 Z" fill="url(#po2)" shape-rendering="crispEdges"/>
<path d="M413.0 492.2 L413.0 492.2 L413.0 492.0 L413.0 491.8 L413.1 491.5 L413.1 491.1 L413.2 490.6 L413.3 490.0 L413.4 489.3 L413.5 488.5 L413.6 487.6 L413.8 486.7 L413.9 485.7 L414.1 484.5 L414.3 483.3 L414.5 482.1 L414.7 480.7 L414.9 479.3 L415.2 477.8 L415.4 476.2 L415.7 474.5 L416.0 472.8 L416.3 471.0 L416.6 469.1 L416.9 467.2 L417.2 465.2 L417.6 463.2 L418.0 461.1 L418.3 458.9 L418.7 456.7 L419.1 454.5 L419.5 452.1 L420.0 449.8 L420.4 447.4 L420.9 444.9 L421.4 442.4 L421.8 439.9 L422.3 437.4 L422.9 434.8 L423.4 432.1 L423.9 429.4 L424.5 426.8 L425.0 424.0 L425.6 421.3 L426.2 418.5 L426.8 415.7 L427.5 412.9 L428.1 410.0 L428.8 407.2 L429.4 404.3 L430.1 401.4 L430.8 398.5 L431.5 395.5 L432.2 392.6 L432.9 389.7 L433.7 386.7 L434.5 383.8 L435.2 380.8 L436.0 377.8 L436.8 374.9 L437.6 371.9 L438.5 368.9 L439.3 365.9 L440.2 363.0 L441.0 360.0 L441.9 357.0 L442.8 354.1 L443.7 351.1 L444.7 348.2 L445.6 345.2 L446.6 342.3 L447.5 339.4 L448.5 336.5 L449.5 333.6 L450.5 330.7 L451.5 327.8 L452.6 325.0 L453.6 322.1 L454.7 319.3 L455.7 316.5 L456.8 313.7 L457.9 310.9 L459.1 308.2 L460.2 305.5 L461.3 302.7 L462.5 300.0 L463.7 297.4 L464.9 294.7 L466.1 292.1 L467.3 289.5 L468.5 286.9 L469.7 284.3 L471.0 281.8 L472.3 279.3 L473.5 276.8 L474.8 274.3 L476.1 271.9 L477.5 269.5 L478.8 267.1 L480.2 264.7 L481.5 262.4 L482.9 260.0 L484.3 257.7 L485.7 255.5 L487.1 253.2 L488.5 251.0 L490.0 248.8 L491.5 246.6 L492.9 244.5 L494.4 242.4 L495.9 240.3 L497.4 238.2 L499.0 236.2 L500.5 234.2 L502.1 232.2 L503.6 230.2 L505.2 228.2 L506.8 226.3 L508.4 224.4 L510.0 222.5 L511.7 220.6 L513.3 218.8 L515.0 217.0 L516.7 215.2 L518.4 213.4 L520.1 211.7 L521.8 209.9 L523.5 208.2 L525.3 206.5 L527.1 204.8 L528.8 203.1 L530.6 201.5 L532.4 199.9 L534.2 198.2 L536.1 196.6 L537.9 195.1 L539.8 193.5 L541.6 191.9 L543.5 190.4 L545.4 188.9 L547.3 187.4 L549.3 185.9 L551.2 184.4 L553.2 182.9 L555.1 181.4 L557.1 180.0 L559.1 178.5 L561.1 177.1 L563.1 175.7 L565.2 174.3 L567.2 172.9 L569.3 171.5 L571.4 170.1 L573.5 168.7 L575.6 167.3 L577.7 166.0 L579.8 164.6 L582.0 163.3 L584.1 161.9 L586.3 160.6 L588.5 159.3 L590.7 157.9 L592.9 156.6 L595.1 155.3 L597.4 154.0 L599.6 152.7 L601.9 151.5 L604.2 150.2 L606.5 148.9 L608.8 147.7 L611.1 146.4 L613.4 145.2 L615.8 143.9 L618.2 142.7 L620.5 141.5 L622.9 140.3 L625.3 139.1 L627.8 137.9 L630.2 136.7 L632.6 135.5 L635.1 134.3 L637.6 133.2 L640.1 132.0 L642.6 130.9 L645.1 129.8 L647.6 128.7 L650.2 127.6 L652.7 126.5 L655.3 125.4 L657.9 124.3 L660.5 123.3 L663.1 122.3 L665.7 121.2 L668.4 120.2 L671.0 119.2 L673.7 118.2 L676.4 117.3 L679.0 116.3 L681.8 115.3 L684.5 114.4 L687.2 113.5 L690.0 112.6 L692.7 111.6 L695.5 110.7 L698.3 109.8 L701.1 108.9 L703.9 108.1 L706.7 107.2 L709.6 106.3 L712.5 105.4 L715.3 104.5 L718.2 103.6 L721.1 102.7 L724.0 101.8 L727.0 100.9 L729.9 99.9 L732.9 98.9 L735.8 97.9 L738.8 96.9 L741.8 95.8" fill="none" stroke="#000" stroke-width="3.6"/>
<path d="M405.0 546.0 L405.0 545.9 L405.0 545.7 L405.0 545.5 L405.1 545.1 L405.1 544.6 L405.2 544.0 L405.3 543.3 L405.4 542.5 L405.5 541.6 L405.7 540.6 L405.8 539.5 L406.0 538.3 L406.2 537.0 L406.3 535.6 L406.5 534.1 L406.8 532.5 L407.0 530.8 L407.2 529.1 L407.5 527.2 L407.8 525.3 L408.1 523.2 L408.4 521.1 L408.7 518.9 L409.0 516.7 L409.4 514.3 L409.7 511.9 L410.1 509.4 L410.5 506.9 L410.9 504.2 L411.3 501.5 L411.7 498.8 L412.2 496.0 L412.6 493.1 L413.1 490.2 L413.6 487.2 L414.1 484.2 L414.6 481.1 L415.1 477.9 L415.6 474.8 L416.2 471.5 L416.8 468.3 L417.4 465.0 L418.0 461.6 L418.6 458.2 L419.2 454.8 L419.8 451.3 L420.5 447.8 L421.1 444.3 L421.8 440.8 L422.5 437.2 L423.2 433.6 L424.0 430.0 L424.7 426.3 L425.4 422.7 L426.2 419.0 L427.0 415.3 L427.8 411.5 L428.6 407.8 L429.4 404.1 L430.2 400.3 L431.1 396.5 L432.0 392.7 L432.8 388.9 L433.7 385.1 L434.6 381.3 L435.6 377.5 L436.5 373.7 L437.4 369.9 L438.4 366.1 L439.4 362.3 L440.4 358.5 L441.4 354.7 L442.4 350.9 L443.4 347.1 L444.5 343.3 L445.5 339.5 L446.6 335.8 L447.7 332.0 L448.8 328.3 L449.9 324.5 L451.0 320.8 L452.2 317.1 L453.3 313.4 L454.5 309.7 L455.7 306.1 L456.9 302.4 L458.1 298.8 L459.4 295.2 L460.6 291.6 L461.9 288.0 L463.1 284.5 L464.4 281.0 L465.7 277.5 L467.0 274.0 L468.3 270.5 L469.7 267.1 L471.0 263.7 L472.4 260.3 L473.8 257.0 L475.2 253.6 L476.6 250.3 L478.0 247.1 L479.5 243.8 L480.9 240.6 L482.4 237.4 L483.9 234.3 L485.4 231.1 L486.9 228.0 L488.4 225.0 L489.9 221.9 L491.5 218.9 L493.1 215.9 L494.6 213.0 L496.2 210.0 L497.8 207.2 L499.5 204.3 L501.1 201.5 L502.8 198.7 L504.4 195.9 L506.1 193.2 L507.8 190.5 L509.5 187.8 L511.2 185.1 L513.0 182.5 L514.7 179.9 L516.5 177.4 L518.2 174.8 L520.0 172.3 L521.8 169.9 L523.7 167.4 L525.5 165.0 L527.3 162.6 L529.2 160.3 L531.1 157.9 L533.0 155.6 L534.9 153.4 L536.8 151.1 L538.7 148.9 L540.7 146.7 L542.6 144.5 L544.6 142.4 L546.6 140.2 L548.6 138.1 L550.6 136.1 L552.6 134.0 L554.7 132.0 L556.7 130.0 L558.8 128.0 L560.9 126.0 L563.0 124.0 L565.1 122.1 L567.2 120.2 L569.4 118.3 L571.5 116.4 L573.7 114.6 L575.9 112.7 L578.1 110.9 L580.3 109.1 L582.5 107.3 L584.8 105.5 L587.0 103.8 L589.3 102.0 L591.6 100.3 L593.9 98.6 L596.2 96.9 L598.5 95.2 L600.8 93.5 L603.2 91.8 L605.6 90.2 L607.9 88.5 L610.3 86.9 L612.7 85.2 L615.2 83.6 L617.6 82.0 L620.0 80.4 L622.5 78.8 L625.0 77.3 L627.5 75.7 L630.0 74.1 L632.5 72.6 L635.0 71.1 L637.6 69.5 L640.2 68.0 L642.7 66.5 L645.3 65.0 L647.9 63.5 L650.6 62.0 L653.2 60.5 L655.8 59.0 L658.5 57.6 L661.2 56.1 L663.9 54.7 L666.6 53.3 L669.3 51.8 L672.0 50.4 L674.8 49.0 L677.5 47.6 L680.3 46.2 L683.1 44.8 L685.9 43.5 L688.7 42.1 L691.5 40.8 L694.4 39.4 L697.2 38.1 L700.1 36.8 L703.0 35.5 L705.9 34.2 L708.8 33.0 L711.7 31.7 L714.7 30.4 L717.6 29.2 L720.6 28.0 L723.6 26.8 L726.6 25.6 L729.6 24.4 L732.6 23.2 L735.7 22.0 L738.7 20.9 L741.8 19.7" fill="none" stroke="#f00" stroke-width="3.2" stroke-dasharray="16.5 7.6 17.2 7.6 17.2 7.6 17.2 7.6 17.2 7.6 17.2 7.6 17.2 7.6 17.2 7.6 17.2 7.6 17.2 7.6 17.2 7.6 17.2 7.6 17.2 7.6 17.2 7.6 17.2 7.6 17.2 7.6 17.2 7.6 17.2 7.6 17.2 7.6 17.2 7.6 17.2 7.6 17.2 7.6 17.2 7.6 17.2 7.6 17.2 7.6 17.2 7.6 17.2 7.6 17.2 7.6 17.2 7.6 17.2 7.6 17.2 7.6 17.2 7.6 17.2 7.6 17.2 7.6 17.2 7.6 17.2 7.6 17.2 7.6 17.2 7.6 17.2 7.6 17.2 7.6 17.2 7.6 17.2 7.6 17.2 7.6"/>
</g>
<line x1="75.9" y1="426.8" x2="79.7" y2="426.8" stroke="#000" stroke-width="2.0"/>
<line x1="75.9" y1="399.9" x2="79.7" y2="399.9" stroke="#000" stroke-width="2.0"/>
<line x1="75.9" y1="380.8" x2="79.7" y2="380.8" stroke="#000" stroke-width="2.0"/>
<line x1="75.9" y1="366.0" x2="79.7" y2="366.0" stroke="#000" stroke-width="2.0"/>
<line x1="75.9" y1="353.9" x2="79.7" y2="353.9" stroke="#000" stroke-width="2.0"/>
<line x1="75.9" y1="343.7" x2="79.7" y2="343.7" stroke="#000" stroke-width="2.0"/>
<line x1="75.9" y1="334.8" x2="79.7" y2="334.8" stroke="#000" stroke-width="2.0"/>
<line x1="75.9" y1="327.0" x2="79.7" y2="327.0" stroke="#000" stroke-width="2.0"/>
<line x1="75.9" y1="320.0" x2="83.5" y2="320.0" stroke="#000" stroke-width="2.0"/>
<line x1="75.9" y1="274.0" x2="79.7" y2="274.0" stroke="#000" stroke-width="2.0"/>
<line x1="75.9" y1="247.1" x2="79.7" y2="247.1" stroke="#000" stroke-width="2.0"/>
<line x1="75.9" y1="228.1" x2="79.7" y2="228.1" stroke="#000" stroke-width="2.0"/>
<line x1="75.9" y1="213.3" x2="79.7" y2="213.3" stroke="#000" stroke-width="2.0"/>
<line x1="75.9" y1="201.2" x2="79.7" y2="201.2" stroke="#000" stroke-width="2.0"/>
<line x1="75.9" y1="190.9" x2="79.7" y2="190.9" stroke="#000" stroke-width="2.0"/>
<line x1="75.9" y1="182.1" x2="79.7" y2="182.1" stroke="#000" stroke-width="2.0"/>
<line x1="75.9" y1="174.3" x2="79.7" y2="174.3" stroke="#000" stroke-width="2.0"/>
<line x1="75.9" y1="167.3" x2="83.5" y2="167.3" stroke="#000" stroke-width="2.0"/>
<line x1="75.9" y1="121.3" x2="79.7" y2="121.3" stroke="#000" stroke-width="2.0"/>
<line x1="75.9" y1="94.4" x2="79.7" y2="94.4" stroke="#000" stroke-width="2.0"/>
<line x1="75.9" y1="75.3" x2="79.7" y2="75.3" stroke="#000" stroke-width="2.0"/>
<line x1="75.9" y1="60.5" x2="79.7" y2="60.5" stroke="#000" stroke-width="2.0"/>
<line x1="75.9" y1="48.4" x2="79.7" y2="48.4" stroke="#000" stroke-width="2.0"/>
<line x1="75.9" y1="38.2" x2="79.7" y2="38.2" stroke="#000" stroke-width="2.0"/>
<line x1="75.9" y1="29.3" x2="79.7" y2="29.3" stroke="#000" stroke-width="2.0"/>
<line x1="75.9" y1="21.5" x2="79.7" y2="21.5" stroke="#000" stroke-width="2.0"/>
<line x1="410.8" y1="426.8" x2="414.6" y2="426.8" stroke="#000" stroke-width="2.0"/>
<line x1="410.8" y1="399.9" x2="414.6" y2="399.9" stroke="#000" stroke-width="2.0"/>
<line x1="410.8" y1="380.8" x2="414.6" y2="380.8" stroke="#000" stroke-width="2.0"/>
<line x1="410.8" y1="366.0" x2="414.6" y2="366.0" stroke="#000" stroke-width="2.0"/>
<line x1="410.8" y1="353.9" x2="414.6" y2="353.9" stroke="#000" stroke-width="2.0"/>
<line x1="410.8" y1="343.7" x2="414.6" y2="343.7" stroke="#000" stroke-width="2.0"/>
<line x1="410.8" y1="334.8" x2="414.6" y2="334.8" stroke="#000" stroke-width="2.0"/>
<line x1="410.8" y1="327.0" x2="414.6" y2="327.0" stroke="#000" stroke-width="2.0"/>
<line x1="410.8" y1="320.0" x2="418.4" y2="320.0" stroke="#000" stroke-width="2.0"/>
<line x1="410.8" y1="274.0" x2="414.6" y2="274.0" stroke="#000" stroke-width="2.0"/>
<line x1="410.8" y1="247.1" x2="414.6" y2="247.1" stroke="#000" stroke-width="2.0"/>
<line x1="410.8" y1="228.1" x2="414.6" y2="228.1" stroke="#000" stroke-width="2.0"/>
<line x1="410.8" y1="213.3" x2="414.6" y2="213.3" stroke="#000" stroke-width="2.0"/>
<line x1="410.8" y1="201.2" x2="414.6" y2="201.2" stroke="#000" stroke-width="2.0"/>
<line x1="410.8" y1="190.9" x2="414.6" y2="190.9" stroke="#000" stroke-width="2.0"/>
<line x1="410.8" y1="182.1" x2="414.6" y2="182.1" stroke="#000" stroke-width="2.0"/>
<line x1="410.8" y1="174.3" x2="414.6" y2="174.3" stroke="#000" stroke-width="2.0"/>
<line x1="410.8" y1="167.3" x2="418.4" y2="167.3" stroke="#000" stroke-width="2.0"/>
<line x1="410.8" y1="121.3" x2="414.6" y2="121.3" stroke="#000" stroke-width="2.0"/>
<line x1="410.8" y1="94.4" x2="414.6" y2="94.4" stroke="#000" stroke-width="2.0"/>
<line x1="410.8" y1="75.3" x2="414.6" y2="75.3" stroke="#000" stroke-width="2.0"/>
<line x1="410.8" y1="60.5" x2="414.6" y2="60.5" stroke="#000" stroke-width="2.0"/>
<line x1="410.8" y1="48.4" x2="414.6" y2="48.4" stroke="#000" stroke-width="2.0"/>
<line x1="410.8" y1="38.2" x2="414.6" y2="38.2" stroke="#000" stroke-width="2.0"/>
<line x1="410.8" y1="29.3" x2="414.6" y2="29.3" stroke="#000" stroke-width="2.0"/>
<line x1="410.8" y1="21.5" x2="414.6" y2="21.5" stroke="#000" stroke-width="2.0"/>
<line x1="741.8" y1="426.8" x2="738.0" y2="426.8" stroke="#000" stroke-width="2.0"/>
<line x1="741.8" y1="399.9" x2="738.0" y2="399.9" stroke="#000" stroke-width="2.0"/>
<line x1="741.8" y1="380.8" x2="738.0" y2="380.8" stroke="#000" stroke-width="2.0"/>
<line x1="741.8" y1="366.0" x2="738.0" y2="366.0" stroke="#000" stroke-width="2.0"/>
<line x1="741.8" y1="353.9" x2="738.0" y2="353.9" stroke="#000" stroke-width="2.0"/>
<line x1="741.8" y1="343.7" x2="738.0" y2="343.7" stroke="#000" stroke-width="2.0"/>
<line x1="741.8" y1="334.8" x2="738.0" y2="334.8" stroke="#000" stroke-width="2.0"/>
<line x1="741.8" y1="327.0" x2="738.0" y2="327.0" stroke="#000" stroke-width="2.0"/>
<line x1="741.8" y1="320.0" x2="734.2" y2="320.0" stroke="#000" stroke-width="2.0"/>
<line x1="741.8" y1="274.0" x2="738.0" y2="274.0" stroke="#000" stroke-width="2.0"/>
<line x1="741.8" y1="247.1" x2="738.0" y2="247.1" stroke="#000" stroke-width="2.0"/>
<line x1="741.8" y1="228.1" x2="738.0" y2="228.1" stroke="#000" stroke-width="2.0"/>
<line x1="741.8" y1="213.3" x2="738.0" y2="213.3" stroke="#000" stroke-width="2.0"/>
<line x1="741.8" y1="201.2" x2="738.0" y2="201.2" stroke="#000" stroke-width="2.0"/>
<line x1="741.8" y1="190.9" x2="738.0" y2="190.9" stroke="#000" stroke-width="2.0"/>
<line x1="741.8" y1="182.1" x2="738.0" y2="182.1" stroke="#000" stroke-width="2.0"/>
<line x1="741.8" y1="174.3" x2="738.0" y2="174.3" stroke="#000" stroke-width="2.0"/>
<line x1="741.8" y1="167.3" x2="734.2" y2="167.3" stroke="#000" stroke-width="2.0"/>
<line x1="741.8" y1="121.3" x2="738.0" y2="121.3" stroke="#000" stroke-width="2.0"/>
<line x1="741.8" y1="94.4" x2="738.0" y2="94.4" stroke="#000" stroke-width="2.0"/>
<line x1="741.8" y1="75.3" x2="738.0" y2="75.3" stroke="#000" stroke-width="2.0"/>
<line x1="741.8" y1="60.5" x2="738.0" y2="60.5" stroke="#000" stroke-width="2.0"/>
<line x1="741.8" y1="48.4" x2="738.0" y2="48.4" stroke="#000" stroke-width="2.0"/>
<line x1="741.8" y1="38.2" x2="738.0" y2="38.2" stroke="#000" stroke-width="2.0"/>
<line x1="741.8" y1="29.3" x2="738.0" y2="29.3" stroke="#000" stroke-width="2.0"/>
<line x1="741.8" y1="21.5" x2="738.0" y2="21.5" stroke="#000" stroke-width="2.0"/>
<line x1="83.2" y1="472.8" x2="83.2" y2="469.0" stroke="#000" stroke-width="2.0"/>
<line x1="97.9" y1="472.8" x2="97.9" y2="469.0" stroke="#000" stroke-width="2.0"/>
<line x1="112.5" y1="472.8" x2="112.5" y2="465.2" stroke="#000" stroke-width="2.0"/>
<line x1="127.2" y1="472.8" x2="127.2" y2="469.0" stroke="#000" stroke-width="2.0"/>
<line x1="141.8" y1="472.8" x2="141.8" y2="469.0" stroke="#000" stroke-width="2.0"/>
<line x1="156.5" y1="472.8" x2="156.5" y2="469.0" stroke="#000" stroke-width="2.0"/>
<line x1="171.1" y1="472.8" x2="171.1" y2="469.0" stroke="#000" stroke-width="2.0"/>
<line x1="185.8" y1="472.8" x2="185.8" y2="465.2" stroke="#000" stroke-width="2.0"/>
<line x1="200.4" y1="472.8" x2="200.4" y2="469.0" stroke="#000" stroke-width="2.0"/>
<line x1="215.1" y1="472.8" x2="215.1" y2="469.0" stroke="#000" stroke-width="2.0"/>
<line x1="229.7" y1="472.8" x2="229.7" y2="469.0" stroke="#000" stroke-width="2.0"/>
<line x1="244.4" y1="472.8" x2="244.4" y2="469.0" stroke="#000" stroke-width="2.0"/>
<line x1="259.0" y1="472.8" x2="259.0" y2="465.2" stroke="#000" stroke-width="2.0"/>
<line x1="273.7" y1="472.8" x2="273.7" y2="469.0" stroke="#000" stroke-width="2.0"/>
<line x1="288.3" y1="472.8" x2="288.3" y2="469.0" stroke="#000" stroke-width="2.0"/>
<line x1="303.0" y1="472.8" x2="303.0" y2="469.0" stroke="#000" stroke-width="2.0"/>
<line x1="317.6" y1="472.8" x2="317.6" y2="469.0" stroke="#000" stroke-width="2.0"/>
<line x1="332.3" y1="472.8" x2="332.3" y2="465.2" stroke="#000" stroke-width="2.0"/>
<line x1="346.9" y1="472.8" x2="346.9" y2="469.0" stroke="#000" stroke-width="2.0"/>
<line x1="361.6" y1="472.8" x2="361.6" y2="469.0" stroke="#000" stroke-width="2.0"/>
<line x1="376.2" y1="472.8" x2="376.2" y2="469.0" stroke="#000" stroke-width="2.0"/>
<line x1="390.9" y1="472.8" x2="390.9" y2="469.0" stroke="#000" stroke-width="2.0"/>
<line x1="447.6" y1="472.8" x2="447.6" y2="465.2" stroke="#000" stroke-width="2.0"/>
<line x1="484.4" y1="472.8" x2="484.4" y2="469.0" stroke="#000" stroke-width="2.0"/>
<line x1="521.1" y1="472.8" x2="521.1" y2="465.2" stroke="#000" stroke-width="2.0"/>
<line x1="557.9" y1="472.8" x2="557.9" y2="469.0" stroke="#000" stroke-width="2.0"/>
<line x1="594.7" y1="472.8" x2="594.7" y2="465.2" stroke="#000" stroke-width="2.0"/>
<line x1="631.5" y1="472.8" x2="631.5" y2="469.0" stroke="#000" stroke-width="2.0"/>
<line x1="668.2" y1="472.8" x2="668.2" y2="465.2" stroke="#000" stroke-width="2.0"/>
<line x1="705.0" y1="472.8" x2="705.0" y2="469.0" stroke="#000" stroke-width="2.0"/>
<rect x="75.9" y="14.5" width="329.6" height="458.3" fill="none" stroke="#000" stroke-width="2.2"/>
<rect x="410.8" y="14.5" width="331.0" height="458.3" fill="none" stroke="#000" stroke-width="2.2"/>
<rect x="200.9" y="274.9" width="191.6" height="164.6" fill="#fff"/>
<g clip-path="url(#c3)">
<path d="M200.8 384.4 C202.0 385.3 205.7 388.2 208.0 390.0 C210.3 391.8 212.3 393.7 214.5 395.2 C216.7 396.7 218.8 398.0 221.0 399.1 C223.2 400.2 225.3 401.1 227.5 401.7 C229.7 402.3 231.8 402.7 234.0 402.7 C236.2 402.7 238.3 402.3 240.5 401.7 C242.7 401.1 244.8 400.2 246.9 399.1 C249.1 398.0 251.0 396.5 253.4 394.8 C255.8 393.1 256.1 393.8 261.1 389.0 C266.1 384.2 275.2 374.4 283.4 366.2 C291.5 357.9 300.1 349.3 310.0 339.5 C319.9 329.7 331.8 318.2 343.0 307.5 C354.2 296.8 369.0 283.0 377.3 275.1 C385.6 267.2 390.4 262.5 393.0 260.0" fill="none" stroke="#000" stroke-width="3.9"/>
<path d="M200.8 384.2 C202.0 385.0 205.7 387.5 208.0 389.1 C210.3 390.7 212.3 392.4 214.5 393.9 C216.7 395.3 218.8 396.7 221.0 397.8 C223.2 398.9 225.3 399.8 227.5 400.4 C229.7 401.0 231.8 401.4 234.0 401.5 C236.2 401.6 238.3 401.5 240.5 401.0 C242.7 400.5 244.8 399.8 246.9 398.6 C249.1 397.4 251.5 395.6 253.4 394.0 C255.3 392.4 256.4 391.7 258.4 389.0 C260.4 386.3 263.3 381.8 265.6 377.9 C267.9 374.0 270.3 369.7 272.3 365.6 C274.3 361.5 276.0 357.5 277.8 353.4 C279.6 349.3 281.4 344.9 282.9 341.1 C284.3 337.3 284.5 336.9 286.5 330.5 C288.5 324.1 292.1 312.2 295.0 303.0 C297.9 293.8 301.8 281.1 303.6 275.1 C305.4 269.1 305.6 268.4 306.0 267.0" fill="none" stroke="#f00" stroke-width="2.4" stroke-dasharray="13.8 6.3" stroke-dashoffset="3.7"/>
</g>
<line x1="220.1" y1="439.5" x2="220.1" y2="435.9" stroke="#000" stroke-width="2.0"/>
<line x1="239.2" y1="439.5" x2="239.2" y2="432.3" stroke="#000" stroke-width="2.0"/>
<line x1="258.4" y1="439.5" x2="258.4" y2="435.9" stroke="#000" stroke-width="2.0"/>
<line x1="277.5" y1="439.5" x2="277.5" y2="432.3" stroke="#000" stroke-width="2.0"/>
<line x1="296.7" y1="439.5" x2="296.7" y2="435.9" stroke="#000" stroke-width="2.0"/>
<line x1="315.9" y1="439.5" x2="315.9" y2="432.3" stroke="#000" stroke-width="2.0"/>
<line x1="335.0" y1="439.5" x2="335.0" y2="435.9" stroke="#000" stroke-width="2.0"/>
<line x1="354.2" y1="439.5" x2="354.2" y2="432.3" stroke="#000" stroke-width="2.0"/>
<line x1="373.3" y1="439.5" x2="373.3" y2="435.9" stroke="#000" stroke-width="2.0"/>
<line x1="200.9" y1="412.1" x2="204.5" y2="412.1" stroke="#000" stroke-width="2.0"/>
<line x1="200.9" y1="384.6" x2="208.1" y2="384.6" stroke="#000" stroke-width="2.0"/>
<line x1="200.9" y1="357.2" x2="204.5" y2="357.2" stroke="#000" stroke-width="2.0"/>
<line x1="200.9" y1="329.8" x2="208.1" y2="329.8" stroke="#000" stroke-width="2.0"/>
<line x1="200.9" y1="302.3" x2="204.5" y2="302.3" stroke="#000" stroke-width="2.0"/>
<rect x="200.9" y="274.9" width="191.6" height="164.6" fill="none" stroke="#000" stroke-width="2.2"/>
<text x="200.9" y="459.6" class="it" text-anchor="middle">0</text>
<text x="239.2" y="459.6" class="it" text-anchor="middle">0.2</text>
<text x="277.5" y="459.6" class="it" text-anchor="middle">0.4</text>
<text x="315.9" y="459.6" class="it" text-anchor="middle">0.6</text>
<text x="354.2" y="459.6" class="it" text-anchor="middle">0.8</text>
<text x="392.5" y="459.6" class="it" text-anchor="middle">1</text>
<text x="194.4" y="445.7" class="it" text-anchor="end">-50</text>
<text x="194.4" y="390.8" class="it" text-anchor="end">0</text>
<text x="194.4" y="336.0" class="it" text-anchor="end">50</text>
<text transform="translate(230.3,350.2) rotate(-90)" class="it" style="font-size:18.5px">E<tspan dy="5.2" font-size="13.6">B</tspan><tspan dy="-5.2"> [MeV]</tspan></text>
<text x="319.2" y="419.0" class="is" style="font-size:17.40px"><tspan font-size="16.60">ρ</tspan><tspan dy="6.6" font-size="12.20">B</tspan><tspan dy="-6.6"> [fm</tspan><tspan dy="-8.8" font-size="12.40">-3</tspan><tspan dy="8.8">]</tspan></text>
<rect x="535.0" y="274.9" width="191.4" height="164.6" fill="#fff"/>
<g clip-path="url(#c4)">
<path d="M535.1 438.7 C535.6 438.1 536.6 436.2 538.0 435.4 C539.4 434.6 541.4 434.6 543.4 434.1 C545.4 433.7 547.8 433.3 550.0 432.7 C552.2 432.1 554.5 431.3 556.7 430.3 C558.9 429.3 561.2 428.2 563.4 426.7 C565.6 425.2 567.8 423.5 570.0 421.4 C572.2 419.3 574.5 416.7 576.7 414.0 C578.9 411.3 579.5 410.2 583.4 405.3 C587.3 400.4 593.9 391.9 600.0 384.4 C606.1 376.8 613.3 368.0 620.0 360.0 C626.7 352.0 633.3 344.2 640.0 336.6 C646.7 329.0 653.3 321.5 660.0 314.1 C666.7 306.8 674.0 298.8 680.0 292.5 C686.0 286.2 691.5 280.5 695.7 276.2 C699.9 271.9 703.5 268.4 705.0 266.8" fill="none" stroke="#000" stroke-width="2.8"/>
<path d="M535.1 438.7 C535.6 438.1 536.6 436.2 538.0 435.4 C539.4 434.6 541.4 434.6 543.4 434.1 C545.4 433.7 547.8 433.3 550.0 432.7 C552.2 432.1 554.5 431.3 556.7 430.3 C558.9 429.3 561.2 428.2 563.4 426.7 C565.6 425.2 567.8 423.5 570.0 421.4 C572.2 419.3 574.9 416.6 576.7 414.0 C578.5 411.4 579.4 408.9 580.7 406.0 C582.0 403.1 583.4 399.8 584.7 396.7 C586.0 393.6 587.5 390.2 588.7 387.3 C589.9 384.4 590.5 382.0 591.7 379.3 C592.9 376.6 594.2 374.8 595.8 371.3 C597.4 367.8 598.5 366.0 601.3 358.3 C604.1 350.6 608.5 338.6 612.4 324.9 C616.3 311.2 622.2 285.4 624.6 276.0 C627.0 266.6 626.2 269.6 626.5 268.3" fill="none" stroke="#f00" stroke-width="2.5" stroke-dasharray="13.8 6.3" stroke-dashoffset="2.7"/>
</g>
<line x1="554.1" y1="439.5" x2="554.1" y2="435.9" stroke="#000" stroke-width="2.0"/>
<line x1="573.3" y1="439.5" x2="573.3" y2="432.3" stroke="#000" stroke-width="2.0"/>
<line x1="592.4" y1="439.5" x2="592.4" y2="435.9" stroke="#000" stroke-width="2.0"/>
<line x1="611.6" y1="439.5" x2="611.6" y2="432.3" stroke="#000" stroke-width="2.0"/>
<line x1="630.7" y1="439.5" x2="630.7" y2="435.9" stroke="#000" stroke-width="2.0"/>
<line x1="649.8" y1="439.5" x2="649.8" y2="432.3" stroke="#000" stroke-width="2.0"/>
<line x1="669.0" y1="439.5" x2="669.0" y2="435.9" stroke="#000" stroke-width="2.0"/>
<line x1="688.1" y1="439.5" x2="688.1" y2="432.3" stroke="#000" stroke-width="2.0"/>
<line x1="707.3" y1="439.5" x2="707.3" y2="435.9" stroke="#000" stroke-width="2.0"/>
<line x1="535.0" y1="412.1" x2="538.6" y2="412.1" stroke="#000" stroke-width="2.0"/>
<line x1="535.0" y1="384.6" x2="542.2" y2="384.6" stroke="#000" stroke-width="2.0"/>
<line x1="535.0" y1="357.2" x2="538.6" y2="357.2" stroke="#000" stroke-width="2.0"/>
<line x1="535.0" y1="329.8" x2="542.2" y2="329.8" stroke="#000" stroke-width="2.0"/>
<line x1="535.0" y1="302.3" x2="538.6" y2="302.3" stroke="#000" stroke-width="2.0"/>
<rect x="535.0" y="274.9" width="191.4" height="164.6" fill="none" stroke="#000" stroke-width="2.2"/>
<text x="535.0" y="459.6" class="it" text-anchor="middle">0</text>
<text x="573.3" y="459.6" class="it" text-anchor="middle">0.2</text>
<text x="611.6" y="459.6" class="it" text-anchor="middle">0.4</text>
<text x="649.8" y="459.6" class="it" text-anchor="middle">0.6</text>
<text x="688.1" y="459.6" class="it" text-anchor="middle">0.8</text>
<text x="726.4" y="459.6" class="it" text-anchor="middle">1</text>
<text x="528.5" y="445.7" class="it" text-anchor="end">0</text>
<text x="528.5" y="390.8" class="it" text-anchor="end">50</text>
<text x="528.5" y="336.0" class="it" text-anchor="end">100</text>
<text transform="translate(564.4,350.2) rotate(-90)" class="it" style="font-size:18.5px">E<tspan dy="5.2" font-size="13.6">B</tspan><tspan dy="-5.2"> [MeV]</tspan></text>
<text x="651.2" y="419.6" class="is" style="font-size:18.36px"><tspan font-size="17.51">ρ</tspan><tspan dy="7.0" font-size="12.87">B</tspan><tspan dy="-7.0"> [fm</tspan><tspan dy="-9.3" font-size="13.08">-3</tspan><tspan dy="9.3">]</tspan></text>
<text x="39.4" y="485.1" class="mt">10<tspan dy="-13.6" font-size="16" dx="0.4">0</tspan></text>
<text x="748.3" y="485.1" class="mt">10<tspan dy="-13.6" font-size="16" dx="0.4">0</tspan></text>
<text x="39.4" y="332.3" class="mt">10<tspan dy="-13.6" font-size="16" dx="0.4">1</tspan></text>
<text x="748.3" y="332.3" class="mt">10<tspan dy="-13.6" font-size="16" dx="0.4">1</tspan></text>
<text x="39.4" y="179.6" class="mt">10<tspan dy="-13.6" font-size="16" dx="0.4">2</tspan></text>
<text x="748.3" y="179.6" class="mt">10<tspan dy="-13.6" font-size="16" dx="0.4">2</tspan></text>
<text x="39.4" y="26.8" class="mt">10<tspan dy="-13.6" font-size="16" dx="0.4">3</tspan></text>
<text x="748.3" y="26.8" class="mt">10<tspan dy="-13.6" font-size="16" dx="0.4">3</tspan></text>
<text x="112.5" y="495.1" class="mt" text-anchor="middle">0.2</text>
<text x="185.8" y="495.1" class="mt" text-anchor="middle">0.4</text>
<text x="259.0" y="495.1" class="mt" text-anchor="middle">0.6</text>
<text x="332.3" y="495.1" class="mt" text-anchor="middle">0.8</text>
<text x="405.5" y="495.1" class="mt" text-anchor="middle">1</text>
<text x="447.6" y="495.1" class="mt" text-anchor="middle">0.2</text>
<text x="521.1" y="495.1" class="mt" text-anchor="middle">0.4</text>
<text x="594.7" y="495.1" class="mt" text-anchor="middle">0.6</text>
<text x="668.2" y="495.1" class="mt" text-anchor="middle">0.8</text>
<text x="741.8" y="495.1" class="mt" text-anchor="middle">1</text>
<text x="91" y="72.3" class="ml">symmetric matter</text>
<text x="424" y="72.3" class="ml">neutron matter</text>
<text x="128.9" y="526.7" class="ml" style="font-size:22.95px">baryon density</text>
<text x="267.8" y="526.7" class="ms" style="font-size:23.5px">ρ<tspan dy="10.3" font-size="17.4">B</tspan><tspan dy="-10.3"> [fm</tspan><tspan dy="-13.3" font-size="17.8">-3</tspan><tspan dy="13.3">]</tspan></text>
<text x="464.2" y="526.7" class="ml" style="font-size:22.95px">baryon density</text>
<text x="603.1" y="526.7" class="ms" style="font-size:23.5px">ρ<tspan dy="10.3" font-size="17.4">B</tspan><tspan dy="-10.3"> [fm</tspan><tspan dy="-13.3" font-size="17.8">-3</tspan><tspan dy="13.3">]</tspan></text>
<text transform="translate(26.2,345.3) rotate(-90)" class="ml" style="font-size:23.3px">pressure P [MeVfm<tspan dy="-13.4" font-size="16">-3</tspan><tspan dy="13.4">]</tspan></text>
<text transform="translate(810.6,345.3) rotate(-90)" class="ml" style="font-size:23.3px">pressure P [MeVfm<tspan dy="-13.4" font-size="16">-3</tspan><tspan dy="13.4">]</tspan></text>
</svg>
</body></html>
